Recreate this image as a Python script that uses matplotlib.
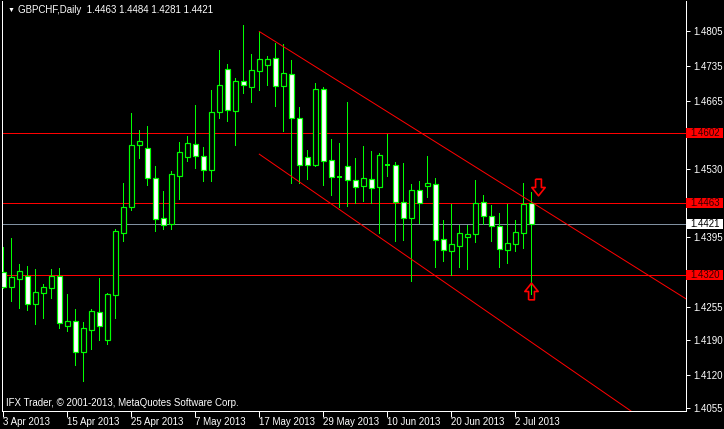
import numpy as np
import pandas as pd
import matplotlib
matplotlib.use('Agg')
import matplotlib.pyplot as plt
from matplotlib.patches import Rectangle
from matplotlib.path import Path
import matplotlib.transforms as mtransforms

plt.rcParams['font.family'] = ['Liberation Sans', 'DejaVu Sans']

# daily bars GBPCHF, 3 Apr 2013 .. 4 Jul 2013
opens = [1.4326, 1.4296, 1.4312, 1.4318, 1.4262, 1.4284, 1.4294, 1.4318, 1.4218, 1.4229,
         1.4167, 1.4211, 1.4245, 1.4191, 1.4280, 1.4404, 1.4455, 1.4579, 1.4572, 1.4512,
         1.4432, 1.4422, 1.4517, 1.4554, 1.4580, 1.4556, 1.4529, 1.4643, 1.4729, 1.4645,
         1.4705, 1.4694, 1.4726, 1.4737, 1.4751, 1.4696, 1.4719, 1.4632, 1.4554, 1.4539,
         1.4689, 1.4548, 1.4514, 1.4536, 1.4508, 1.4496, 1.4510, 1.4494, 1.4538, 1.4538,
         1.4464, 1.4432, 1.4489, 1.4497, 1.4501, 1.4391, 1.4367, 1.4378, 1.4396, 1.4401,
         1.4465, 1.4436, 1.4418, 1.4369, 1.4381, 1.4403, 1.4463]
highs = [1.4376, 1.4393, 1.4341, 1.4338, 1.4332, 1.4302, 1.4332, 1.4334, 1.4282, 1.4252,
         1.4226, 1.4251, 1.4314, 1.4283, 1.4412, 1.4502, 1.4641, 1.4609, 1.4616, 1.4536,
         1.4487, 1.4526, 1.4584, 1.4596, 1.4658, 1.4574, 1.4688, 1.4767, 1.4739, 1.4712,
         1.4817, 1.4759, 1.4804, 1.4755, 1.4782, 1.4779, 1.4747, 1.4653, 1.4568, 1.4702,
         1.4693, 1.4590, 1.4582, 1.4664, 1.4552, 1.4576, 1.4566, 1.4562, 1.4600, 1.4544,
         1.4542, 1.4500, 1.4506, 1.4556, 1.4513, 1.4429, 1.4461, 1.4420, 1.4420, 1.4509,
         1.4479, 1.4459, 1.4442, 1.4461, 1.4429, 1.4503, 1.4484]
lows = [1.4294, 1.4268, 1.4253, 1.4250, 1.4222, 1.4234, 1.4274, 1.4214, 1.4209, 1.4141,
        1.4109, 1.4173, 1.4190, 1.4182, 1.4234, 1.4388, 1.4449, 1.4553, 1.4499, 1.4408,
        1.4411, 1.4411, 1.4471, 1.4547, 1.4533, 1.4507, 1.4507, 1.4632, 1.4625, 1.4579,
        1.4682, 1.4664, 1.4688, 1.4698, 1.4656, 1.4607, 1.4503, 1.4503, 1.4511, 1.4537,
        1.4499, 1.4479, 1.4455, 1.4457, 1.4463, 1.4467, 1.4463, 1.4403, 1.4517, 1.4388,
        1.4390, 1.4308, 1.4424, 1.4475, 1.4336, 1.4348, 1.4320, 1.4336, 1.4332, 1.4386,
        1.4422, 1.4388, 1.4336, 1.4344, 1.4368, 1.4374, 1.4281]
closes = [1.4296, 1.4315, 1.4327, 1.4261, 1.4285, 1.4295, 1.4318, 1.4224, 1.4229, 1.4167,
          1.4214, 1.4247, 1.4219, 1.4281, 1.4407, 1.4454, 1.4578, 1.4586, 1.4512, 1.4430,
          1.4420, 1.4520, 1.4564, 1.4582, 1.4557, 1.4529, 1.4643, 1.4697, 1.4647, 1.4705,
          1.4697, 1.4727, 1.4749, 1.4749, 1.4696, 1.4721, 1.4631, 1.4539, 1.4539, 1.4689,
          1.4546, 1.4514, 1.4513, 1.4508, 1.4494, 1.4512, 1.4492, 1.4558, 1.4537, 1.4464,
          1.4432, 1.4488, 1.4463, 1.4502, 1.4389, 1.4369, 1.4381, 1.4403, 1.4401, 1.4463,
          1.4436, 1.4418, 1.4371, 1.4383, 1.4405, 1.4461, 1.4421]

dates = pd.bdate_range('2013-04-03', periods=len(opens))

# horizontal levels and the bid line
levels = [1.4602, 1.4463, 1.4320]
bid = 1.4421
# channel anchors (bar index, price)
upper_pts = [(32, 1.4804), (67.3, 1.4452)]
lower_pts = [(32, 1.4560), (62, 1.4230)]
arrow_down = (66.8, 1.4494)
arrow_up = (66, 1.4288)

yticks = [1.4805, 1.4735, 1.4665, 1.4530, 1.4395, 1.4255, 1.4190, 1.4120, 1.4055]

GREEN = '#00ff00'
px = 0.72  # 1 pixel in points at 100 dpi
FS = 7.0

fig = plt.figure(figsize=(7.24, 4.29), dpi=100, facecolor='black')
ax = fig.add_axes([2/724, 1 - 411/429, 684/724, 410/429])
ax.set_facecolor('black')

n = len(opens)
for i in range(n):
    o, h, l, c = opens[i], highs[i], lows[i], closes[i]
    ax.vlines(i, l, h, color=GREEN, lw=px, zorder=2, antialiased=False)
    if abs(c - o) < 0.00012:
        ax.hlines(o, i - 0.3, i + 0.3, color=GREEN, lw=2*px, zorder=3, antialiased=False)
        continue
    face = 'white' if c < o else 'black'
    ax.add_patch(Rectangle((i - 0.3, min(o, c)), 0.6, abs(c - o), facecolor=face,
                           edgecolor=GREEN, lw=1.2*px, zorder=3))

# horizontal lines
for lv in levels:
    ax.axhline(lv, color='#ff0000', lw=px, zorder=1)
ax.axhline(bid, color='#8090a0', lw=px, zorder=1)

# channel lines, extended to the right edge
xmax = 85.34
for pts in (upper_pts, lower_pts):
    (x0, y0), (x1, y1) = pts
    slope = (y1 - y0) / (x1 - x0)
    ax.plot([x0, xmax], [y0, y0 + slope*(xmax - x0)], color='#ff0000', lw=px, zorder=4)

# arrows
down_path = Path([(-0.35, 1), (0.35, 1), (0.35, 0), (0.8, 0), (0, -1), (-0.8, 0), (-0.35, 0), (-0.35, 1)])
up_path = Path([(-0.35, -1), (0.35, -1), (0.35, 0), (0.8, 0), (0, 1), (-0.8, 0), (-0.35, 0), (-0.35, -1)])
ax.plot([arrow_down[0]], [arrow_down[1]], marker=down_path, ms=12, mfc='none', mec='#ff0000', mew=1.2, zorder=5)
ax.plot([arrow_up[0]], [arrow_up[1]], marker=up_path, ms=12, mfc='none', mec='#ff0000', mew=1.2, zorder=5)

ax.set_xlim(-0.16, xmax)
ax.set_ylim(1.4049, 1.48647)

# axes styling
for s in ['left', 'bottom', 'right']:
    ax.spines[s].set_color('white')
    ax.spines[s].set_linewidth(px)
ax.spines['top'].set_visible(False)
ax.yaxis.tick_right()
ax.set_yticks(yticks)
ax.set_yticklabels(['{:.4f}'.format(v) for v in yticks])
ax.tick_params(axis='y', colors='white', labelsize=FS, length=3, width=px, pad=2)
xt = list(range(0, n, 8))
ax.set_xticks(xt)
ax.set_xticklabels(['{} {}'.format(dates[k].day, dates[k].strftime('%b %Y')) for k in xt], ha='left')
ax.tick_params(axis='x', colors='white', labelsize=FS, length=4, width=px, pad=0.5)

# price boxes on the right axis
trans = mtransforms.blended_transform_factory(ax.transAxes, ax.transData)
box_h = 0.0021
for lv, fc, tc in [(levels[0], '#ff0000', '#300000'), (levels[1], '#ff0000', '#300000'),
                   (levels[2], '#ff0000', '#300000'), (bid, 'white', 'black')]:
    ax.add_patch(Rectangle((1.0, lv - box_h/2), 37/684, box_h, transform=trans, facecolor=fc,
                           edgecolor='none', clip_on=False, zorder=6))
    ax.text(1.0 + 4/684, lv, '{:.4f}'.format(lv), transform=trans, ha='left', va='center',
            fontsize=FS, color=tc, clip_on=False, zorder=7)

# header and copyright
fig.text(8/724, 1 - 10/429, '\u25bc', color='white', fontsize=5, va='center', ha='left')
fig.text(18/724, 1 - 10/429, 'GBPCHF,Daily  1.4463 1.4484 1.4281 1.4421', color='white',
         fontsize=FS, va='center', ha='left')
fig.text(6/724, 1 - 403/429, 'IFX Trader, \u00a9 2001-2013, MetaQuotes Software Corp.', color='white',
         fontsize=FS, va='center', ha='left')

fig.savefig('out.png', dpi=100, facecolor='black')
plt.close()
